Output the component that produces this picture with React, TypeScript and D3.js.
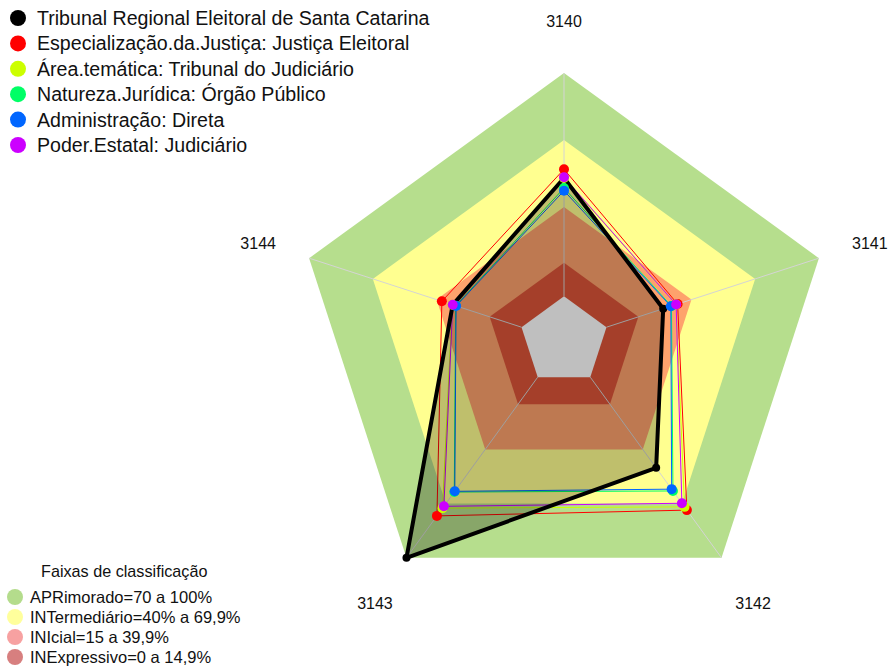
import React, { useEffect, useRef } from "react";
import * as d3 from "d3";

// axis labels (clockwise from top)
const axes = ["3140", "3141", "3142", "3143", "3144"];

// series values (%), one per axis
const tribunal = [53.0, 26.7, 50.2, 100, 32.4];
const especializacao = [56.9, 33.5, 73.6, 76.8, 37.5];
const areaTematica = [53.0, 32.8, 71.8, 72.5, 32.6];
const natureza = [48.5, 30.6, 63.0, 63.6, 31.0];
const administracao = [47.3, 30.3, 62.0, 63.2, 30.8];
const poder = [53.3, 32.8, 69.8, 71.5, 32.4];

const seriesNames = [
  "Tribunal Regional Eleitoral de Santa Catarina",
  "Especialização.da.Justiça: Justiça Eleitoral",
  "Área.temática: Tribunal do Judiciário",
  "Natureza.Jurídica: Órgão Público",
  "Administração: Direta",
  "Poder.Estatal: Judiciário",
];
const seriesColors = ["#000000", "#FF0000", "#CCFF00", "#00FF66", "#0066FF", "#CC00FF"];

// classification bands
const bandLimits = [100, 70, 40, 15, 0];
const bandFills = ["#B6DE8D", "#FFFF90", "#FEA26C", "#DC5539", "#FFFFFF"];
const bandLabels = [
  "APRimorado=70 a 100%",
  "INTermediário=40% a 69,9%",
  "INIcial=15 a 39,9%",
  "INExpressivo=0 a 14,9%",
];
const bandLegendColors = ["#B4DC8C", "#FFFF9C", "#F7A1A1", "#D77F7F"];

export default function App() {
  const ref = useRef<SVGSVGElement>(null);

  useEffect(() => {
    const data = [tribunal, especializacao, areaTematica, natureza, administracao, poder];
    const svg = d3.select(ref.current).attr("width", 889).attr("height", 668);
    svg.selectAll("*").remove();

    const font = "'Liberation Sans', Arial, sans-serif";
    const R = 268;
    const g = svg.append("g").attr("transform", "translate(564,341)");

    const rScale = d3.scaleLinear().domain([0, 100]).range([R / 6, R]);
    const angle = d3
      .scalePoint<string>()
      .domain(axes)
      .range([0, (2 * Math.PI * (axes.length - 1)) / axes.length]);

    const pt = (a: number, r: number) => [r * Math.sin(a), -r * Math.cos(a)];

    const radial = d3
      .lineRadial<number>()
      .angle((_, i) => angle(axes[i])!)
      .radius((d) => rScale(d))
      .curve(d3.curveLinearClosed);

    // bands
    bandLimits.forEach((lim, i) => {
      g.append("path")
        .attr("d", radial(axes.map(() => lim)))
        .attr("fill", bandFills[i]);
    });

    // radial axes
    axes.forEach((a) => {
      const [x0, y0] = pt(angle(a)!, rScale(0));
      const [x1, y1] = pt(angle(a)!, rScale(100));
      g.append("line")
        .attr("x1", x0)
        .attr("y1", y0)
        .attr("x2", x1)
        .attr("y2", y1)
        .attr("stroke", "#D4D4D4")
        .attr("stroke-width", 1);
    });

    // axis labels
    axes.forEach((a) => {
      const [x, y] = pt(angle(a)!, R * 1.2);
      g.append("text")
        .attr("x", x)
        .attr("y", y + 2)
        .attr("dy", "0.35em")
        .attr("text-anchor", "middle")
        .style("font-family", font)
        .style("font-size", "16px")
        .attr("fill", "#111")
        .text(a);
    });

    // series lines (first series filled)
    data.forEach((vals, si) => {
      if (si === 0) return;
      g.append("path")
        .attr("d", radial(vals))
        .attr("fill", "none")
        .attr("stroke", seriesColors[si])
        .attr("stroke-width", 1);
    });
    g.append("path")
      .attr("d", radial(data[0]))
      .attr("fill", "rgba(0,0,0,0.25)")
      .attr("stroke", "#000")
      .attr("stroke-width", 4)
      .attr("stroke-linejoin", "round");

    // points
    data.forEach((vals, si) => {
      vals.forEach((v, i) => {
        const [x, y] = pt(angle(axes[i])!, rScale(v));
        g.append("circle")
          .attr("cx", x)
          .attr("cy", y)
          .attr("r", si === 0 ? 4 : 5)
          .attr("fill", seriesColors[si]);
      });
    });

    // series legend
    seriesNames.forEach((name, i) => {
      const y = 18 + i * 25.4;
      svg.append("circle").attr("cx", 18).attr("cy", y).attr("r", 8).attr("fill", seriesColors[i]);
      svg
        .append("text")
        .attr("x", 37)
        .attr("y", y + 7)
        .style("font-family", font)
        .style("font-size", "19.6px")
        .attr("fill", "#111")
        .text(name);
    });

    // band legend
    svg
      .append("text")
      .attr("x", 41)
      .attr("y", 577)
      .style("font-family", font)
      .style("font-size", "16.2px")
      .attr("fill", "#111")
      .text("Faixas de classificação");
    bandLabels.forEach((label, i) => {
      const y = 597 + i * 20;
      svg.append("circle").attr("cx", 15).attr("cy", y).attr("r", 8).attr("fill", bandLegendColors[i]);
      svg
        .append("text")
        .attr("x", 30)
        .attr("y", y + 6)
        .style("font-family", font)
        .style("font-size", "16.5px")
        .attr("fill", "#111")
        .text(label);
    });
  }, []);

  return <svg ref={ref} style={{ position: "absolute", left: 0, top: 0 }} />;
}
